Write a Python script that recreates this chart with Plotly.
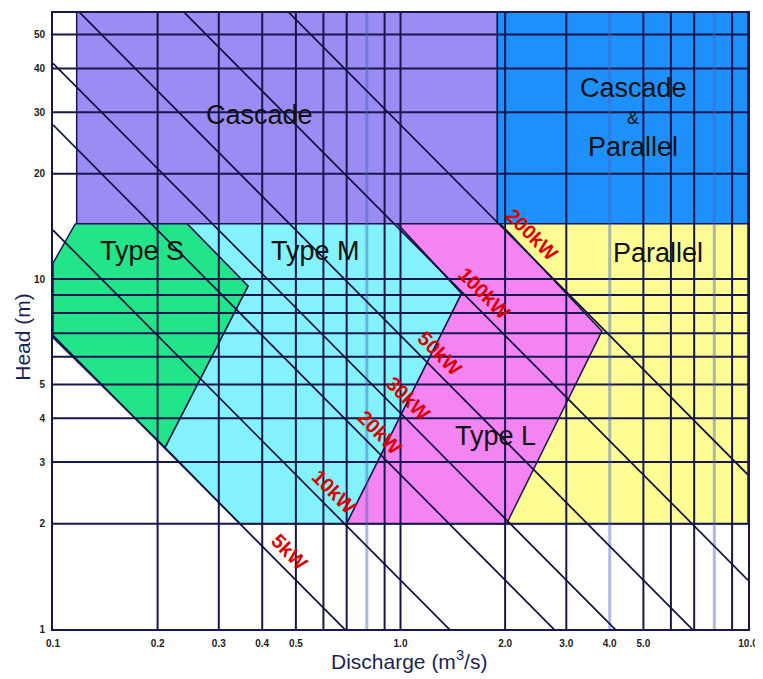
import numpy as np
import plotly.graph_objects as go

# ---------------- data ----------------
x_tick_vals = [0.1, 0.2, 0.3, 0.4, 0.5, 1.0, 2.0, 3.0, 4.0, 5.0, 10.0]
x_tick_text = ["0.1", "0.2", "0.3", "0.4", "0.5", "1.0", "2.0", "3.0", "4.0", "5.0", "10.0"]
y_tick_vals = [1, 2, 3, 4, 5, 10, 20, 30, 40, 50]
y_tick_text = ["1", "2", "3", "4", "5", "10", "20", "30", "40", "50"]

x_grid = [0.2, 0.3, 0.4, 0.5, 0.6, 0.7, 0.9, 1, 2, 3, 5, 6, 7, 9]
x_grid_light = [0.8, 4, 8]
y_grid = [2, 3, 4, 5, 6, 7, 8, 9, 10, 20, 30, 40, 50]

Q_MIN, Q_MAX = 0.1, 10.0
H_MIN, H_MAX = 1.0, 57.6

# iso-power lines (Q*H = P * QH_PER_KW)
power_kw = [5, 10, 20, 30, 50, 100, 200]
power_labels = ["5kW", "10kW", "20kW", "30kW", "50kW", "100kW", "200kW"]
label_q = [0.446, 0.600, 0.809, 0.974, 1.204, 1.62, 2.21]
QH_PER_KW = 1 / 7.25

# application regions (polygon vertices: discharge, head)
cascade_q = [0.117, 1.9, 1.9, 0.117]
cascade_h = [14.4, 14.4, 60, 60]
casc_par_q = [1.9, 10, 10, 1.9]
casc_par_h = [14.4, 14.4, 60, 60]
parallel_q = [1.9, 10, 10, 1.9]
parallel_h = [2, 2, 14.4, 14.4]
type_m_q = [0.243, 0.98, 1.5, 0.70, 0.345, 0.210, 0.364]
type_m_h = [14.4, 14.4, 9.1, 2.0, 2.0, 3.3, 9.55]
type_s_q = [0.116, 0.243, 0.364, 0.210, 0.1, 0.1]
type_s_h = [14.4, 14.4, 9.55, 3.3, 6.8, 11.1]
type_l_q = [0.98, 1.94, 3.8, 2.02, 0.70, 1.5]
type_l_h = [14.4, 14.4, 7.1, 2.0, 2.0, 9.1]

region_names = ["Cascade", "Cascade", "&", "Parallel", "Type S", "Type M", "Parallel", "Type L"]
region_q = [0.394, 4.67, 4.67, 4.67, 0.180, 0.568, 5.5, 1.88]
region_h = [29.5, 35.2, 28.9, 23.8, 12.0, 12.0, 11.9, 3.55]

# ---------------- styles ----------------
NAVY = "#17174f"
FONT = "Liberation Sans, Arial, sans-serif"
region_font_sizes = [27, 27, 18, 27, 27, 27, 27, 27]

fig = go.Figure()

def region(qs, hs, color):
    fig.add_trace(go.Scatter(
        x=qs + [qs[0]], y=hs + [hs[0]], mode="lines", fill="toself",
        fillcolor=color, line=dict(color=NAVY, width=1.5),
        hoverinfo="skip", showlegend=False))

region(cascade_q, cascade_h, "#9a8cf2")
region(casc_par_q, casc_par_h, "#1e90fb")
region(parallel_q, parallel_h, "#fdfd94")
region(type_m_q, type_m_h, "#84f2fa")
region(type_s_q, type_s_h, "#22e58a")
region(type_l_q, type_l_h, "#f584f3")

# grid lines (drawn above the filled regions)
gx, gy = [], []
for v in x_grid:
    gx += [v, v, None]
    gy += [H_MIN, H_MAX, None]
for v in y_grid:
    gx += [Q_MIN, Q_MAX, None]
    gy += [v, v, None]
fig.add_trace(go.Scatter(x=gx, y=gy, mode="lines", line=dict(color=NAVY, width=2),
                         hoverinfo="skip", showlegend=False))
lx, ly = [], []
for v in x_grid_light:
    lx += [v, v, None]
    ly += [H_MIN, H_MAX, None]
fig.add_trace(go.Scatter(x=lx, y=ly, mode="lines",
                         line=dict(color="rgba(70,100,190,0.45)", width=3),
                         hoverinfo="skip", showlegend=False))

# iso-power lines
px_, py_ = [], []
for p in power_kw:
    k = p * QH_PER_KW
    px_ += [Q_MIN, Q_MAX, None]
    py_ += [k / Q_MIN, k / Q_MAX, None]
fig.add_trace(go.Scatter(x=px_, y=py_, mode="lines", line=dict(color="#101040", width=1.7),
                         hoverinfo="skip", showlegend=False))

annotations = []
for p, lab, q in zip(power_kw, power_labels, label_q):
    k = p * QH_PER_KW
    annotations.append(dict(
        x=np.log10(q), y=np.log10(k / q), xref="x", yref="y", text=lab,
        showarrow=False, textangle=45, xshift=11, yshift=11,
        font=dict(family=FONT, size=20, color="#dc0000", weight="bold")))

for name, q, h, fs in zip(region_names, region_q, region_h, region_font_sizes):
    annotations.append(dict(
        x=np.log10(q), y=np.log10(h), xref="x", yref="y", text=name,
        showarrow=False, font=dict(family=FONT, size=fs, color="#111111")))

annotations.append(dict(
    x=0.512, y=-0.051, xref="paper", yref="paper", text="Discharge (m<sup>3</sup>/s)",
    showarrow=False, xanchor="center", yanchor="middle",
    font=dict(family=FONT, size=21, color="#1b1f5a")))
annotations.append(dict(
    x=-0.045, y=0.474, xref="paper", yref="paper", text="Head (m)", textangle=-90,
    showarrow=False, xanchor="center", yanchor="middle",
    font=dict(family=FONT, size=21, color="#1b1f5a")))

# page body has an 8px margin, so the figure is offset by (8, 8)
fig.update_layout(
    width=755, height=671,
    margin=dict(l=45, r=15, t=3, b=50),
    paper_bgcolor="white", plot_bgcolor="white",
    annotations=annotations,
    showlegend=False,
)
fig.update_xaxes(
    type="log", range=[np.log10(Q_MIN), np.log10(Q_MAX)],
    tickvals=x_tick_vals, ticktext=x_tick_text, ticks="", ticklabelstandoff=4,
    showgrid=False, zeroline=False, showline=True, linecolor=NAVY, linewidth=2, mirror=True,
    tickfont=dict(family=FONT, size=10, color="#222222", weight="bold"),
)
fig.update_yaxes(
    type="log", range=[np.log10(H_MIN), np.log10(H_MAX)],
    tickvals=y_tick_vals, ticktext=y_tick_text, ticks="", ticklabelstandoff=4,
    showgrid=False, zeroline=False, showline=True, linecolor=NAVY, linewidth=2, mirror=True,
    tickfont=dict(family=FONT, size=10, color="#222222", weight="bold"),
)

fig.write_html("out.html")
